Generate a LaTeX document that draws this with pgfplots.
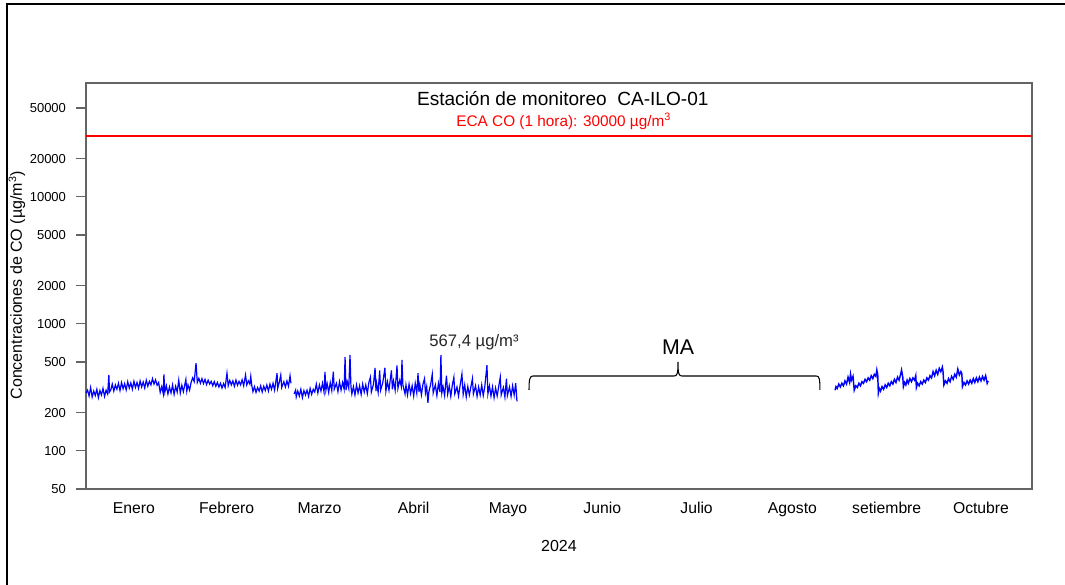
\documentclass[border=0pt]{standalone}
\usepackage{pgfplots}
\pgfplotsset{compat=1.18}
\usepackage{fontspec}
\setmainfont{Liberation Sans}
\definecolor{axgray}{RGB}{100,100,100}
\definecolor{pureblue}{RGB}{0,0,255}
\definecolor{purered}{RGB}{255,0,0}
\begin{document}
\begin{tikzpicture}
\begin{axis}[
  at={(64.5pt,72pt)}, anchor=south west,
  scale only axis, width=709.5pt, height=304.5pt,
  xmin=0, xmax=306, ymode=log, ymin=50, ymax=78700,
  axis line style={draw=axgray, line width=1pt},
  xtick={15.5,45.5,75.5,106,136.5,167,197.5,228.5,259,289.5},
  xticklabels={Enero,Febrero,Marzo,Abril,Mayo,Junio,Julio,Agosto,setiembre,Octubre},
  x tick style={draw=none},
  ytick={50,100,200,500,1000,2000,5000,10000,20000,50000},
  yticklabels={50,100,200,500,1000,2000,5000,10000,20000,50000},
  ytick pos=left, tick align=outside, major tick length=7.5pt,
  y tick style={draw=axgray, line width=0.8pt},
  yminorticks=false, xminorticks=false,
  /pgf/number format/assume math mode=true,
  xticklabel style={font=\fontsize{11.8}{14}\selectfont, yshift=1pt},
  yticklabel style={font=\fontsize{9.75}{12}\selectfont, xshift=-4pt},
  clip=false,
  unbounded coords=jump,
]
\addplot[purered, line width=1.5pt] coordinates {(0,30000)(306,30000)};
\addplot[pureblue, line width=0.9pt] coordinates {
(0,285)(0.5,300)(1,270)(1.5,315)(2,265)(2.5,295)(3,272)(3.5,305)(4,262)(4.5,298)(5,275)(5.5,310)(6,268)(6.5,300)(7,280)(7.4,395)(7.6,290)
(8,300)(8.5,335)(9,295)(9.5,330)(10,305)(10.5,340)(11,298)(11.5,345)(12,308)(12.5,338)(13,302)(13.5,350)(14,312)(14.5,342)(15,305)(15.5,352)(16,315)(16.5,345)(17,310)(17.5,355)(18,318)(18.5,348)(19,312)(19.5,360)(20,322)(20.5,352)(21,330)(21.5,370)(22,335)(22.5,362)(23,328)(23.5,345)
(24,288)(24.5,320)(25,282)(25.2,400)(25.5,290)(26,325)(26.5,280)(27,318)(27.5,285)(28,330)(28.5,278)(29,322)(29.5,290)(30,360)(30.5,285)(31,328)(31.5,292)(32,335)(32.3,365)(32.6,295)(33,330)(33.5,300)
(34,345)(34.5,375)(35,350)(35.6,490)(36,345)(36.5,372)(37,340)(37.5,370)(38,338)(38.5,365)(39,332)(39.5,360)(40,335)(40.5,352)(41,325)(41.5,350)(42,322)(42.5,345)(43,318)(43.5,340)(44,312)(44.5,338)(45,315)(45.6,408)
(46,325)(46.5,358)(47,330)(47.5,355)(48,322)(48.5,360)(49,328)(49.5,352)(50,330)(50.5,362)(51,325)(51.6,395)(52,330)(52.5,355)(53,335)(53.3,385)(53.6,330)
(54,292)(54.5,320)(55,288)(55.5,315)(56,295)(56.5,325)(57,290)(57.5,322)(58,298)(58.5,330)(59,295)(59.5,335)(60,305)(60.5,340)(61,300)(61.8,408)(62,310)(62.5,345)(63,395)(63.3,315)(64,350)(64.5,318)(65,355)(65.5,322)(66,390)(66.3,340)
(66.8,nan)
(67.3,280)(67.8,300)(68,265)(68.5,295)(69,270)(69.5,305)(70,262)(70.5,298)(71,275)(71.5,300)(72,268)(72.5,310)(73,278)(73.5,305)
(74,290)(74.5,335)(75,285)(75.5,330)(76,295)(76.5,340)(77,290)(77.3,417)(77.6,300)(78,338)(78.5,288)(79,345)(79.5,298)(80,420)(80.3,305)(81,340)(81.5,292)(82,350)(82.5,300)(83,345)(83.5,305)(83.8,547)(84.1,300)(84.5,350)(85,310)(85.4,570)(85.7,320)
(86,280)(86.5,320)(87,275)(87.5,330)(88,285)(88.5,325)(89,278)(89.5,335)(90,290)(90.5,330)(91,282)(91.5,345)(92,380)(92.3,290)(93,335)(93.5,450)(93.8,295)(94,340)(94.5,288)(95,430)(95.3,300)(96,345)(96.7,450)(97,295)(97.5,350)(98,300)(98.8,430)(99.1,305)(99.5,355)(100,300)(100.6,470)(100.9,310)(101.5,360)(102,320)(102.2,519)(102.5,330)
(103.2,280)(103.5,330)(104,275)(104.5,335)(105,282)(105.5,325)(106,270)(106.5,340)(107,285)(107.4,408)(107.7,290)(108,330)(108.5,275)(109,335)(109.5,370)(109.8,285)(110.2,320)(110.6,238)(110.9,290)(111.5,335)(112,400)(112.3,285)(113,330)(113.5,272)(114,340)(114.5,290)
(114.8,567.4)
(115.1,285)(115.5,320)(116,272)(116.6,390)(117,280)(117.5,325)(118,268)(118.5,330)(119,380)(119.3,280)(120,318)(120.5,270)(121,325)(121.6,402)(122,278)(122.5,330)(123,265)(123.5,320)(124,275)(125,370)(125.3,280)(126,325)(126.5,268)(127,318)(127.5,275)(128,330)(128.5,272)(129,320)(129.7,473)(130,280)(130.5,325)(131,270)(131.5,318)(132,262)(132.5,312)(133,270)(134,380)(134.3,275)(135,315)(135.5,265)(136,370)(136.3,272)(137,318)(137.5,268)(138,325)(138.5,275)(139,340)(139.4,245)
};
\addplot[pureblue, line width=1.1pt] coordinates {
(242.3,300)(242.6,320)(243,310)(243.5,335)(244,318)(244.5,340)(245,325)(245.5,355)(246,335)(246.5,380)(247,345)(247.3,400)(247.6,360)(248.1,385)
(248.5,300)(249,325)(249.5,315)(250,340)(250.5,325)(251,350)(251.5,340)(252,365)(252.5,350)(253,375)(253.5,360)(254,390)(254.5,370)(255,400)(255.5,385)(255.8,432)(256.1,395)
(256.3,285)(256.6,310)(257,295)(257.5,320)(258,305)(258.5,330)(259,315)(259.5,340)(260,325)(260.5,350)(261,335)(261.5,365)(262,345)(262.5,380)(263,360)(263.5,400)(263.8,432)(264.2,380)
(264.4,320)(264.8,345)(265.2,330)(265.6,360)(266,340)(266.5,370)(267,350)(267.5,375)(268,360)(268.4,390)
(268.6,315)(269,340)(269.5,325)(270,350)(270.5,335)(271,360)(271.5,345)(272,375)(272.5,360)(273,390)(273.5,375)(274,420)(274.5,390)(275,430)(275.5,400)(276,445)(276.5,420)(277,456)(277.2,425)
(277.5,330)(278,355)(278.5,340)(279,370)(279.5,350)(280,385)(280.5,365)(281,400)(281.5,380)(282,440)(282.5,395)(283,420)(283.3,405)
(283.5,320)(284,345)(284.5,330)(285,355)(285.5,335)(286,360)(286.5,340)(287,370)(287.5,345)(288,375)(288.5,350)(289,380)(289.5,355)(290,385)(290.5,360)(291,390)(291.5,340)(291.8,355)
};
\draw[black, line width=0.8pt] (axis cs:143.3,301) .. controls (axis cs:143.3,370) and (axis cs:143.6,388) .. (axis cs:144.6,388) -- (axis cs:190.2,388) .. controls (axis cs:191.2,388) and (axis cs:191.5,400) .. (axis cs:191.5,500) .. controls (axis cs:191.5,400) and (axis cs:191.8,388) .. (axis cs:192.8,388) -- (axis cs:236.2,388) .. controls (axis cs:237.2,388) and (axis cs:237.4,370) .. (axis cs:237.4,301);
\node[font=\fontsize{16}{18}\selectfont] at (axis cs:191.5,650) {MA};
\node[font=\fontsize{12.5}{14}\selectfont, text=black!85] at (axis cs:125.5,718) {567,4 µg/m³};
\node[font=\fontsize{14.3}{16}\selectfont] at (rel axis cs:0.504,0.9606) {Estación de monitoreo\ \ CA-ILO-01};
\node[text=purered, font=\fontsize{11.5}{13}\selectfont] at (rel axis cs:0.505,0.906) {ECA CO (1 hora): 30000 µg/m\textsuperscript{3}};
\node[rotate=90, font=\fontsize{12}{14}\selectfont] at (rel axis cs:-0.0729,0.502) {Concentraciones de CO (µg/m\textsuperscript{3})};
\node[font=\fontsize{12}{14}\selectfont] at (rel axis cs:0.5,-0.1404) {2024};
\end{axis}
\draw[line width=1.5pt] (5.25pt,0) -- (5.25pt,435.75pt) -- (798.75pt,435.75pt);
\pgfresetboundingbox
\path[use as bounding box] (0,0) rectangle (798.75pt,438.75pt);
\end{tikzpicture}
\end{document}
